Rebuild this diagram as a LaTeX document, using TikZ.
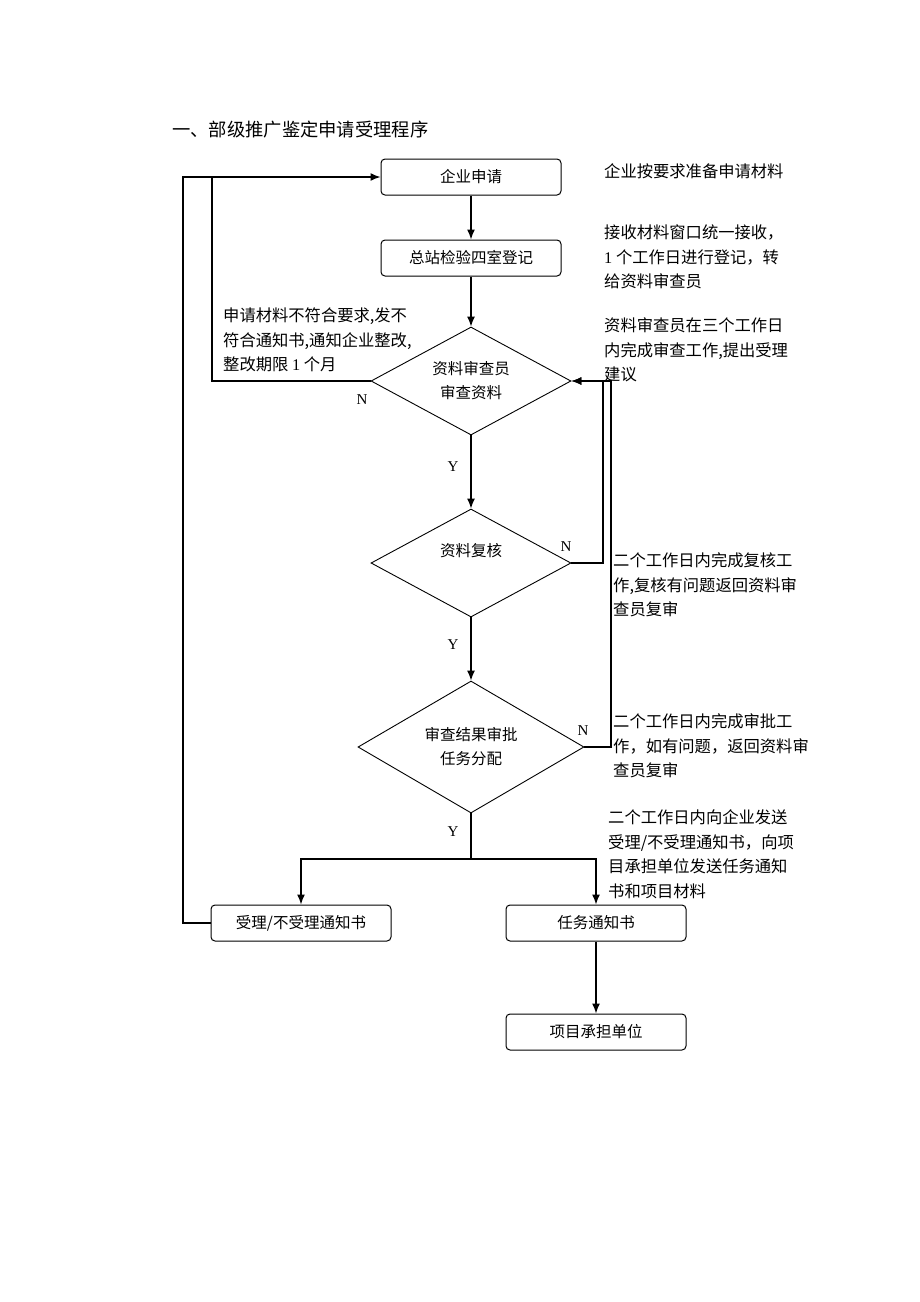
\documentclass[tikz,border=0pt]{standalone}
\usepackage{fontspec}
\setmainfont{Liberation Serif}
\newfontfamily\cjk{Noto Sans CJK SC}
\usetikzlibrary{shapes.geometric, arrows.meta}
\tikzset{
  procbox/.style={draw, rounded corners=4pt, line width=1pt, minimum width=180pt,
    minimum height=36pt, inner sep=0pt, font=\cjk\fontsize{15.5}{24}\selectfont},
  decide/.style={draw, diamond, aspect=2, line width=0.9pt, inner sep=0pt,
    align=center, font=\cjk\fontsize{15.5}{24}\selectfont},
  note/.style={anchor=west, align=left, inner sep=0pt,
    font=\cjk\fontsize{16.3}{24.5}\selectfont},
  yn/.style={inner sep=0pt, font=\fontsize{15}{15}\selectfont},
  flow/.style={line width=1.4pt},
}

\begin{document}
\begin{tikzpicture}[>={Latex[length=10pt,width=8pt]}, x=1pt, y=-1pt]
    \useasboundingbox (0,0) rectangle (920,1302);
    \node[anchor=west, inner sep=0pt, font=\cjk\fontsize{18.3}{20}\selectfont] (title) at (172,130) {一、部级推广鉴定申请受理程序};

    % Main column
    \node[procbox] (apply) at (471,177) {企业申请};
    \node[procbox] (register) at (471,258) {总站检验四室登记};
    \node[decide, minimum width=200pt, minimum height=108pt] (review) at (471,381) {资料审查员\\审查资料};
    \node[decide, minimum width=200pt, minimum height=108pt,
      label={[yshift=12pt, font=\cjk\fontsize{15.5}{24}\selectfont]center:资料复核}] (recheck) at (471,563) {};
    \node[decide, minimum width=226pt, minimum height=132pt] (approve) at (471,747) {审查结果审批\\任务分配};

    % Outputs
    \node[procbox] (notice) at (301,923) {受理/不受理通知书};
    \node[procbox] (task) at (596,923) {任务通知书};
    \node[procbox] (unit) at (596,1032) {项目承担单位};

    % Notes
    \node[note] (n-apply) at (604,171) {企业按要求准备申请材料};
    \node[note] (n-register) at (604,257) {接收材料窗口统一接收，\\{\rmfamily 1} 个工作日进行登记，转\\给资料审查员};
    \node[note] (n-review) at (604,350) {资料审查员在三个工作日\\内完成审查工作,提出受理\\建议};
    \node[note] (n-recheck) at (613,585) {二个工作日内完成复核工\\作,复核有问题返回资料审\\查员复审};
    \node[note] (n-approve) at (613,746) {二个工作日内完成审批工\\作，如有问题，返回资料审\\查员复审};
    \node[note] (n-send) at (608,854) {二个工作日内向企业发送\\受理/不受理通知书，向项\\目承担单位发送任务通知\\书和项目材料};
    \node[note] (n-reject) at (223,340) {申请材料不符合要求,发不\\符合通知书,通知企业整改,\\整改期限 {\rmfamily 1} 个月};

    % Y / N
    \node[yn] (no1) at (362,400) {N};
    \node[yn] (yes1) at (453,467) {Y};
    \node[yn] (no2) at (566,547) {N};
    \node[yn] (yes2) at (453,645) {Y};
    \node[yn] (no3) at (583,731) {N};
    \node[yn] (yes3) at (453,832) {Y};

    % Bends
    \coordinate (loopin) at (212,177);
    \coordinate (loopout) at (183,177);
    \coordinate (back1) at (603,381);
    \coordinate (back2) at (611,381);
    \coordinate (split) at (471,859);

    % Lines
    \draw[flow, ->] (apply.south) -- (register.north);
    \draw[flow, ->] (register.south) -- (review.north);
    \draw[flow, ->] (review.south) -- (recheck.north);
    \draw[flow, ->] (recheck.south) -- (approve.north);
    \draw[flow, ->] (review.west) -| (loopin) -- (apply.west);
    \draw[flow] (notice.west) -| (loopout) -- (loopin);
    \draw[flow, ->] (recheck.east) -| (back1) -- (review.east);
    \draw[flow, ->] (approve.east) -| (back2) -- (review.east);
    \draw[flow] (approve.south) -- (split);
    \draw[flow, ->] (split) -| (notice.north);
    \draw[flow, ->] (split) -| (task.north);
    \draw[flow, ->] (task.south) -- (unit.north);
\end{tikzpicture}
\end{document}
